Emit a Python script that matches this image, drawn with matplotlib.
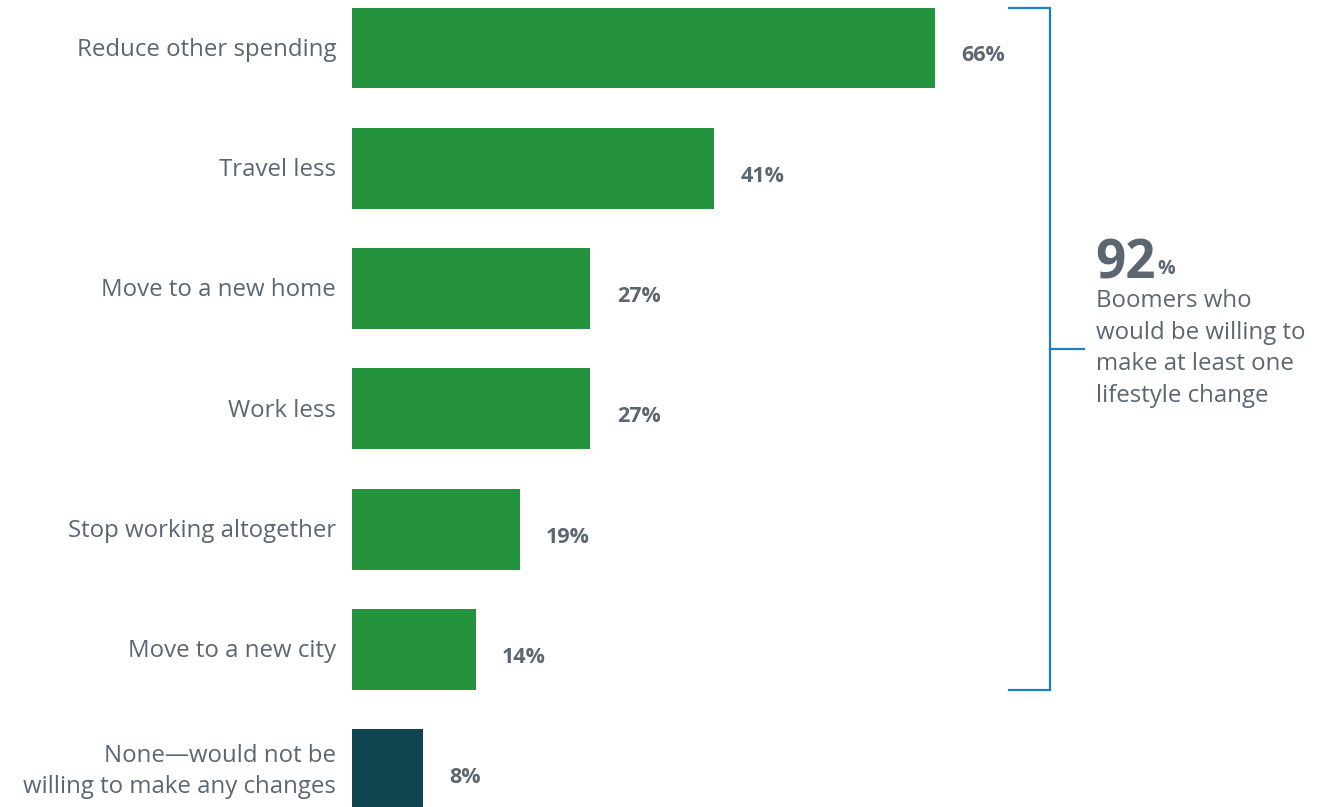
import matplotlib
matplotlib.use("Agg")
import matplotlib.pyplot as plt

# Survey responses: lifestyle changes Boomers would be willing to make
categories = [
    "Reduce other spending",
    "Travel less",
    "Move to a new home",
    "Work less",
    "Stop working altogether",
    "Move to a new city",
    "None\u2014would not be\nwilling to make any changes",
]
values = [66, 41, 27, 27, 19, 14, 8]
value_labels = ["66%", "41%", "27%", "27%", "19%", "14%", "8%"]
bar_colors = ["#25923d"] * 6 + ["#0f4551"]

summary_value = "92"
summary_text = "Boomers who\nwould be willing to\nmake at least one\nlifestyle change"

TEXT = "#5b6670"
BLUE = "#1a7fc6"
FONT = "Open Sans"

W, H = 1322, 807
fig = plt.figure(figsize=(W / 100, H / 100), dpi=100)
left_px = 352
px_per_unit_x = 8.83
px_per_unit_y = 120.3
first_center_px = 48
ax = fig.add_axes([left_px / W, 0, 1 - left_px / W, 1])
ax.set_xlim(0, (W - left_px) / px_per_unit_x)
ax.set_ylim((H - first_center_px) / px_per_unit_y, -first_center_px / px_per_unit_y)
ax.axis("off")

ypos = list(range(len(categories)))
bar_h = 0.673
ax.barh(ypos, values, height=bar_h, color=bar_colors, linewidth=0)

for y, v, lab, cat in zip(ypos, values, value_labels, categories):
    ax.text(v + 3.0, y + 0.065, lab, ha="left", va="center", fontsize=15.5,
            fontweight="bold", color=TEXT, family=FONT)
    ax.text(-1.8, y + 0.015, cat, ha="right", va="center", fontsize=17.3,
            color=TEXT, family=FONT, linespacing=1.38)

# Bracket spanning the six "willing" responses
top = ypos[0] - bar_h / 2
bottom = ypos[5] + bar_h / 2
bx = 79.05
mid = (top + bottom) / 2
ax.plot([74.4, bx, bx, 74.4], [top, top, bottom, bottom], color=BLUE, lw=1.6,
        solid_joinstyle="miter", clip_on=False)
ax.plot([bx, 82.9], [mid, mid], color=BLUE, lw=1.6, clip_on=False)

tx = 84.3
big = ax.text(tx - 0.1, (278 - first_center_px) / px_per_unit_y, summary_value,
              ha="left", va="baseline", fontsize=38, fontweight="bold",
              color=TEXT, family=FONT)
ax.annotate("%", xy=(1, 0), xycoords=big, xytext=(1, 9), textcoords="offset points",
            ha="left", va="bottom", fontsize=14, fontweight="bold", color=TEXT,
            family=FONT)
ax.text(tx, (289 - first_center_px) / px_per_unit_y, summary_text, ha="left",
        va="top", fontsize=17.3, color=TEXT, family=FONT, linespacing=1.42)

fig.savefig("out.png", dpi=100, facecolor="white")
